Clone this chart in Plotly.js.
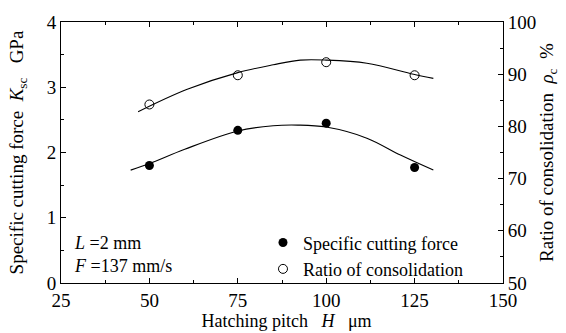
<!DOCTYPE html>
<html>
<head>
<meta charset="utf-8">
<script src="https://cdn.plot.ly/plotly-3.0.1.min.js"></script>
<style>html,body{margin:0;padding:0;background:#fff;}#chart{width:566px;height:333px;}</style>
</head>
<body>
<div id="chart"></div>
<script>
// Measured data points
var pitch = [50, 75, 100, 125];
var cuttingForce = [1.80, 2.34, 2.45, 1.77];        // GPa (left axis)
var consolidation = [84.2, 89.8, 92.3, 89.8];       // % (right axis)

// Fitted curves
var forceCurveX = [44.7, 50, 60, 75, 85, 92, 100, 111.5, 121, 130.3];
var forceCurveY = [1.73, 1.83, 2.05, 2.33, 2.41, 2.42, 2.39, 2.22, 1.96, 1.73];
var consCurveX = [46.8, 60.7, 75, 85, 92.7, 100, 111.5, 124.7, 130.3];
var consCurveY = [82.8, 87.1, 90.3, 91.8, 92.7, 92.7, 92.1, 90.0, 89.2];

var serif = "Liberation Serif";

var traces = [
  {x: forceCurveX, y: forceCurveY, mode: 'lines', line: {color: '#000', width: 1.1, shape: 'spline'},
   showlegend: false, hoverinfo: 'skip', yaxis: 'y'},
  {x: consCurveX, y: consCurveY, mode: 'lines', line: {color: '#000', width: 1.1, shape: 'spline'},
   showlegend: false, hoverinfo: 'skip', yaxis: 'y2'},
  {x: pitch, y: cuttingForce, mode: 'markers', name: 'Specific cutting force',
   marker: {symbol: 'circle', size: 9, color: '#000'}, yaxis: 'y'},
  {x: pitch, y: consolidation, mode: 'markers', name: 'Ratio of consolidation',
   marker: {symbol: 'circle-open', size: 9, color: '#000', line: {width: 1}}, yaxis: 'y2'}
];

var layout = {
  width: 566, height: 333,
  margin: {l: 61, r: 63, t: 22, b: 50},
  paper_bgcolor: '#fff', plot_bgcolor: '#fff',
  font: {family: serif, color: '#000', size: 18},
  showlegend: true,
  legend: {x: 0.457, y: 0.225, xanchor: 'left', yanchor: 'top', bgcolor: 'rgba(0,0,0,0)',
           font: {family: serif, size: 18}, tracegroupgap: 0, itemwidth: 30},
  xaxis: {
    range: [25, 150], tickvals: [25, 50, 75, 100, 125, 150], ticks: 'inside', ticklen: 5,
    tickwidth: 1, tickcolor: '#000', showline: true, linecolor: '#000', linewidth: 1,
    mirror: 'ticks', showgrid: false, zeroline: false,
    minor: {dtick: 12.5, tick0: 25, ticks: 'inside', ticklen: 3, tickcolor: '#000', showgrid: false},
    tickfont: {family: serif, size: 19},
    title: {text: '&nbsp;&nbsp;Hatching pitch &nbsp; <i>H</i> &nbsp; μm', font: {family: serif, size: 18}, standoff: 2}
  },
  yaxis: {
    range: [0, 4], tickvals: [0, 1, 2, 3, 4], ticks: 'inside', ticklen: 5, tickwidth: 1,
    tickcolor: '#000', showline: true, linecolor: '#000', linewidth: 1, showgrid: false,
    zeroline: false,
    minor: {dtick: 0.5, tick0: 0, ticks: 'inside', ticklen: 3, tickcolor: '#000', showgrid: false},
    tickfont: {family: serif, size: 19},
    title: {text: 'Specific cutting force &nbsp;<i>K</i><sub>sc</sub> &nbsp; GPa', font: {family: serif, size: 19}, standoff: 18}
  },
  yaxis2: {
    overlaying: 'y', side: 'right', range: [50, 100], tickvals: [50, 60, 70, 80, 90, 100],
    ticks: 'inside', ticklen: 5, tickwidth: 1, tickcolor: '#000', showline: true,
    linecolor: '#000', linewidth: 1, showgrid: false, zeroline: false,
    minor: {dtick: 5, tick0: 50, ticks: 'inside', ticklen: 3, tickcolor: '#000', showgrid: false},
    tickfont: {family: serif, size: 19},
    title: {text: 'Ratio of consolidation &nbsp;<i>ρ</i><sub>c</sub> &nbsp;%', font: {family: serif, size: 19}, standoff: 4}
  },
  annotations: [
    {xref: 'paper', yref: 'paper', x: 0.025, y: 0.155, xanchor: 'left', yanchor: 'middle', showarrow: false,
     text: '<i>L</i> =2 mm', font: {family: serif, size: 18}},
    {xref: 'paper', yref: 'paper', x: 0.025, y: 0.065, xanchor: 'left', yanchor: 'middle', showarrow: false,
     text: '<i>F</i> =137 mm/s', font: {family: serif, size: 18}}
  ]
};

Plotly.newPlot('chart', traces, layout, {displayModeBar: false, staticPlot: true});
</script>
</body>
</html>
